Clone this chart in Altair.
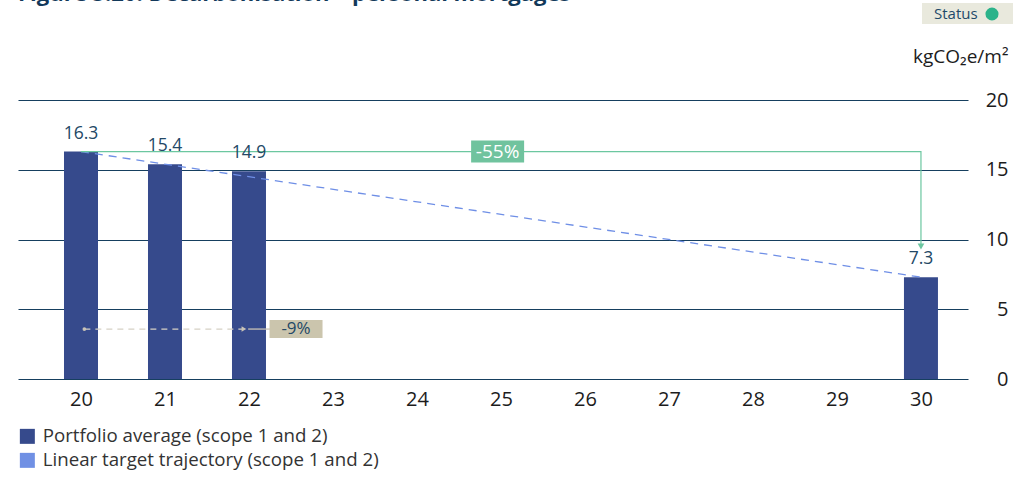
import altair as alt
import pandas as pd

FONT = "Open Sans"

# Portfolio emission intensity by year (20 = 2020, ...)
years = [20, 21, 22, 30]
values = [16.3, 15.4, 14.9, 7.3]
value_labels = ["16.3", "15.4", "14.9", "7.3"]

# Linear target trajectory end points
traj_years = [20, 30]
traj_values = [16.3, 7.3]

# -55% reduction bracket (baseline -> target)
bracket_years = [20, 30, 30]
bracket_values = [16.3, 16.3, 9.5]
bracket_label = "-55%"
bracket_label_year = 24.96

# -9% progress so far
progress_years = [20.04, 21.94]
progress_value = 3.58
progress_label = "-9%"
progress_label_year = 22.56

series_names = ["Portfolio average (scope 1 and 2)",
                "Linear target trajectory (scope 1 and 2)"]
series_colors = ["#364a8c", "#7090e4"]

tick_years = list(range(20, 31))
y_ticks = [0, 5, 10, 15, 20]

title_text = "Figure 5.20: Decarbonisation – personal mortgages"

xscale = alt.Scale(domain=[19.25, 30.56], nice=False, zero=False, padding=0)
yscale = alt.Scale(domain=[0, 20], nice=False, padding=0)

xaxis = alt.Axis(values=tick_years, format="d", title=None, domain=False,
                 ticks=False, grid=False, labelFont=FONT, labelFontSize=20,
                 labelColor="#1c1c1c", labelPadding=10)
yaxis = alt.Axis(orient="right", values=y_ticks, title="kgCO₂e/m²",
                 titleAngle=0, titleAlign="right", titleBaseline="alphabetic",
                 titleX=40, titleY=-38, titleFont=FONT, titleFontSize=19,
                 titleFontWeight="normal", titleColor="#1c1c1c",
                 domain=False, ticks=False, grid=True, gridColor="#163f5f",
                 gridWidth=1.1, labelAlign="right", labelPadding=40,
                 labelFont=FONT, labelFontSize=20, labelColor="#1c1c1c")

bars_df = pd.DataFrame({"year": years, "value": values, "label": value_labels,
                        "series": series_names[0]})
traj_df = pd.DataFrame({"year": traj_years, "value": traj_values})
bracket_df = pd.DataFrame({"year": bracket_years, "value": bracket_values,
                           "order": [0, 1, 2]})

bars = alt.Chart(bars_df).mark_bar(size=34).encode(
    x=alt.X("year:Q", scale=xscale, axis=xaxis),
    y=alt.Y("value:Q", scale=yscale, axis=yaxis),
    color=alt.Color("series:N",
                    scale=alt.Scale(domain=series_names, range=series_colors),
                    legend=alt.Legend(title=None, orient="none", legendX=0,
                                      legendY=327, symbolType="square",
                                      symbolSize=225, symbolStrokeWidth=0,
                                      labelFont=FONT, labelFontSize=18.7,
                                      labelColor="#333333", labelLimit=600,
                                      rowPadding=4, labelOffset=6)),
)

bar_labels = alt.Chart(bars_df).mark_text(
    font=FONT, fontSize=17.5, color="#234866", dy=-9, baseline="bottom"
).encode(x="year:Q", y="value:Q", text="label:N")

trajectory = alt.Chart(traj_df).mark_line(
    color="#6f8fe6", strokeDash=[8, 6], strokeWidth=1.3
).encode(x="year:Q", y="value:Q")

bracket = alt.Chart(bracket_df).mark_line(
    color="#6cc7a0", strokeWidth=1.2
).encode(x="year:Q", y="value:Q", order="order:Q")

bracket_arrow = alt.Chart(pd.DataFrame({"year": [bracket_years[-1]],
                                        "value": [bracket_values[-1]]})).mark_point(
    shape="triangle-down", filled=True, size=45, color="#6cc7a0", opacity=1
).encode(x="year:Q", y="value:Q")

bracket_lbl_df = pd.DataFrame({"year": [bracket_label_year],
                               "value": [bracket_values[0]],
                               "label": [bracket_label]})
bracket_box = alt.Chart(bracket_lbl_df).mark_rect(
    color="#70c39e", width=53, height=22
).encode(x="year:Q", y="value:Q")
bracket_text = alt.Chart(bracket_lbl_df).mark_text(
    font=FONT, fontSize=19, color="white", baseline="middle"
).encode(x="year:Q", y="value:Q", text="label:N")

progress_df = pd.DataFrame({"year": progress_years,
                            "value": [progress_value] * 2})
progress_line = alt.Chart(progress_df).mark_line(
    color="#d6d1c5", strokeDash=[6, 5], strokeWidth=1.3
).encode(x="year:Q", y="value:Q")
progress_dot = alt.Chart(progress_df.iloc[[0]]).mark_point(
    shape="circle", filled=True, size=14, color="#c9c3b6", opacity=1
).encode(x="year:Q", y="value:Q")
progress_arrow = alt.Chart(progress_df.iloc[[1]]).mark_point(
    shape="triangle-right", filled=True, size=30, color="#c9c3b6", opacity=1
).encode(x="year:Q", y="value:Q")
progress_stub = alt.Chart(pd.DataFrame({"year": [21.99, 22.25],
                                        "value": [progress_value] * 2})).mark_line(
    color="#c9c3b6", strokeWidth=1.3
).encode(x="year:Q", y="value:Q")
progress_lbl_df = pd.DataFrame({"year": [progress_label_year],
                                "value": [progress_value],
                                "label": [progress_label]})
progress_box = alt.Chart(progress_lbl_df).mark_rect(
    color="#cbc5ad", width=53, height=18
).encode(x="year:Q", y="value:Q")
progress_text = alt.Chart(progress_lbl_df).mark_text(
    font=FONT, fontSize=17, color="#234866", baseline="middle"
).encode(x="year:Q", y="value:Q", text="label:N")

# "Status" badge in the top-right corner
status_box = alt.Chart(pd.DataFrame({"k": [0]})).mark_rect(
    color="#e9e9dd"
).encode(x=alt.value(904), x2=alt.value(995), y=alt.value(-97), y2=alt.value(-76))
status_text = alt.Chart(pd.DataFrame({"k": [0]})).mark_text(
    font=FONT, fontSize=15, color="#1e4a6a", align="left", baseline="middle",
    text="Status"
).encode(x=alt.value(916), y=alt.value(-86))
status_dot = alt.Chart(pd.DataFrame({"k": [0]})).mark_point(
    shape="circle", filled=True, size=170, color="#2bb38a", opacity=1
).encode(x=alt.value(974), y=alt.value(-86))

# Figure heading, running off the top edge of the page
heading = alt.Chart(pd.DataFrame({"k": [0]})).mark_text(
    font=FONT, fontSize=22, fontWeight="bold", color="#12395a",
    align="left", baseline="alphabetic", text=title_text
).encode(x=alt.value(0), y=alt.value(-99))

chart = alt.layer(
    bars, trajectory, bracket, bracket_arrow, bar_labels,
    bracket_box, bracket_text,
    progress_line, progress_stub, progress_dot, progress_arrow,
    progress_box, progress_text,
    status_box, status_text, status_dot, heading,
).properties(
    width=950, height=279,
    padding={"left": 18, "top": 100, "right": 63, "bottom": 120},
    autosize=alt.AutoSizeParams(type="none"),
).configure(background="white").configure_view(stroke=None)

chart.save("out.html", embed_options={"renderer": "svg", "actions": False})
